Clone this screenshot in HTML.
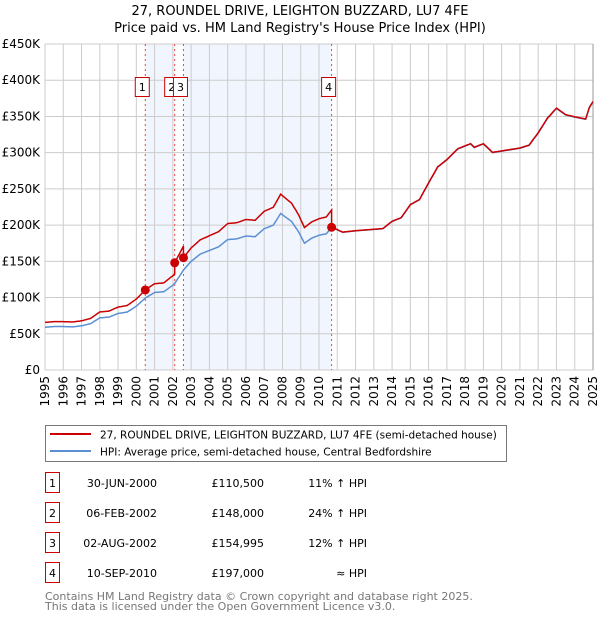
<!DOCTYPE html>
<html><head><meta charset="utf-8"><style>
body{margin:0;background:#fff;font-family:"DejaVu Sans","Liberation Sans",sans-serif;}
svg text{font-family:"DejaVu Sans","Liberation Sans",sans-serif;}
</style></head><body>
<svg id="c" width="600" height="620" xmlns="http://www.w3.org/2000/svg">
<text x="300" y="15" text-anchor="middle" font-size="13">27, ROUNDEL DRIVE, LEIGHTON BUZZARD, LU7 4FE</text>
<text x="300" y="32" text-anchor="middle" font-size="13">Price paid vs. HM Land Registry's House Price Index (HPI)</text>
<g id="plot"></g>
<rect x="45.5" y="425.5" width="461" height="36" fill="#fff" stroke="#777"/>
<line x1="50" y1="434" x2="91" y2="434" stroke="#cc0000" stroke-width="2"/>
<text x="100" y="438.5" font-size="10.5">27, ROUNDEL DRIVE, LEIGHTON BUZZARD, LU7 4FE (semi-detached house)</text>
<line x1="50" y1="451" x2="91" y2="451" stroke="#5b8fd4" stroke-width="2"/>
<text x="100" y="455.5" font-size="10.5">HPI: Average price, semi-detached house, Central Bedfordshire</text>
<g id="table" font-size="11"></g>
<text x="45" y="600" font-size="11" fill="#777">Contains HM Land Registry data © Crown copyright and database right 2025.</text>
<text x="45" y="610" font-size="11" fill="#777">This data is licensed under the Open Government Licence v3.0.</text>
</svg>
<script>
const hpiYears=[1995,1995.5,1996,1996.5,1997,1997.5,1998,1998.5,1999,1999.5,2000,2000.5,2001,2001.5,2002,2002.1,2002.58,2003,2003.5,2004,2004.5,2005,2005.5,2006,2006.5,2007,2007.5,2007.9,2008.5,2008.9,2009.2,2009.6,2010,2010.4,2010.7,2011.3,2012,2012.5,2013,2013.5,2014,2014.5,2015,2015.5,2016,2016.5,2017,2017.6,2018.3,2018.5,2019,2019.5,2020,2020.5,2021,2021.5,2022,2022.5,2023,2023.5,2024,2024.6,2024.8,2025];
const hpiValues=[59000,60000,60000,59500,61000,64000,72000,73000,78000,80000,88000,99500,107000,108000,117000,119400,138000,150000,160000,165000,170000,180000,181000,185000,184000,195000,200000,216000,205000,190000,175000,182000,186000,188000,197000,190000,192000,193000,194000,195000,205000,210000,228000,235000,258000,280000,290000,305000,312000,307000,312000,300000,302000,304000,306000,310000,327000,347000,361000,352000,349000,346000,362000,370000];
const saleLabels=["1","2","3","4"];
const saleDates=[2000.49,2002.1,2002.58,2010.69];
const salePrices=[110500,148000,154995,197000];
const saleDateText=["30-JUN-2000","06-FEB-2002","02-AUG-2002","10-SEP-2010"];
const salePriceText=["£110,500","£148,000","£154,995","£197,000"];
const saleHpiText=["11% ↑ HPI","24% ↑ HPI","12% ↑ HPI","≈ HPI"];
const yTicks=[0,50000,100000,150000,200000,250000,300000,350000,400000,450000];
const yTickLabels=["£0","£50K","£100K","£150K","£200K","£250K","£300K","£350K","£400K","£450K"];

const NS="http://www.w3.org/2000/svg";
const X0=45,X1=593,Y0=370,Y1=44;
const xs=t=>X0+(t-1995)/30*(X1-X0);
const ys=v=>Y0-v/450000*(Y0-Y1);
function mk(tag,attrs,parent){const e=document.createElementNS(NS,tag);for(const k in attrs)e.setAttribute(k,attrs[k]);parent.appendChild(e);return e;}
const P=document.getElementById('plot');
function hpiAt(t){for(let i=0;i<hpiYears.length-1;i++){if(t<=hpiYears[i+1]){const f=(t-hpiYears[i])/(hpiYears[i+1]-hpiYears[i]);return hpiValues[i]+f*(hpiValues[i+1]-hpiValues[i]);}}return hpiValues[hpiValues.length-1];}
[[0,1],[2,3]].forEach((p,i)=>{
 const r=mk('rect',{x:xs(saleDates[p[0]]),y:Y1,width:xs(saleDates[p[1]])-xs(saleDates[p[0]]),height:Y0-Y1,fill:'#f1f5fd'},P);
 
 
});
for(let y=1995;y<=2025;y++){
 const l=mk('line',{x1:xs(y),x2:xs(y),y1:Y1,y2:Y0,stroke:'#cccccc','stroke-width':1},P);
 
 
 const t=mk('text',{transform:`translate(${xs(y)+4},376) rotate(-90)`,'text-anchor':'end','font-size':12},P);
 
 
 t.textContent=y;
}
yTicks.forEach((v,i)=>{
 const l=mk('line',{x1:X0,x2:X1,y1:ys(v),y2:ys(v),stroke:'#cccccc','stroke-width':1},P);
 
 
 const t=mk('text',{x:40,y:ys(v)+4,'text-anchor':'end','font-size':12},P);
 
 
 t.textContent=yTickLabels[i];
});
const edge=mk('line',{x1:X1,x2:X1,y1:Y1,y2:Y0,stroke:'#999','stroke-width':1},P);


saleDates.forEach((d,i)=>{
 const l=mk('line',{x1:xs(d),x2:xs(d),y1:Y1,y2:Y0,stroke:'#ee4444','stroke-width':1,'stroke-dasharray':'2,3'},P);
 
 
});
let dh='';const samples=[];
for(let t=1995;t<=2025.001;t+=0.05)samples.push(t);
hpiYears.forEach(t=>samples.push(t));saleDates.forEach(t=>{samples.push(t-0.001);samples.push(t);});
samples.sort((a,b)=>a-b);
samples.forEach((t,i)=>{dh+=(i?'L':'M')+xs(t).toFixed(1)+','+ys(hpiAt(t)).toFixed(1);});
const hl=mk('path',{d:dh,fill:'none',stroke:'#5b8fd4','stroke-width':1.5},P);


function segIdx(t){let k=0;for(let i=0;i<saleDates.length;i++)if(t>=saleDates[i])k=i;return k;}
let dp='';
samples.forEach((t,i)=>{const k=segIdx(t);const v=salePrices[k]*hpiAt(t)/hpiAt(saleDates[k]);dp+=(i?'L':'M')+xs(t).toFixed(1)+','+ys(v).toFixed(1);});
const pl=mk('path',{d:dp,fill:'none',stroke:'#cc0000','stroke-width':1.5},P);


saleDates.forEach((d,i)=>{
 const c=mk('circle',{cx:xs(d),cy:ys(salePrices[i]),r:4.5,fill:'#cc0000'},P);
 
 
 const b=mk('rect',{x:xs(d)-10,y:77.5,width:14,height:19,fill:'#fff',stroke:'#cc0000','stroke-width':1},P);
 
 
 const t=mk('text',{x:xs(d)-3,y:91,'text-anchor':'middle','font-size':11},P);
 
 
 t.textContent=saleLabels[i];
});
const T=document.getElementById('table');
saleLabels.forEach((s,i)=>{
 const y=483+i*30;
 const b=mk('rect',{x:45.5,y:y-10.5,width:14,height:20,fill:'#fff',stroke:'#cc0000'},T);
 
 
 const items=[[52.5,'middle',s,'table-row-number'],[157,'end',saleDateText[i],'table-row-date'],[264,'end',salePriceText[i],'table-row-price'],[367,'end',saleHpiText[i],'table-row-hpi']];
 items.forEach(it=>{
  const t=mk('text',{x:it[0],y:y+4,'text-anchor':it[1]},T);
  
  
  t.textContent=it[2];
 });
});
</script>
</body></html>
